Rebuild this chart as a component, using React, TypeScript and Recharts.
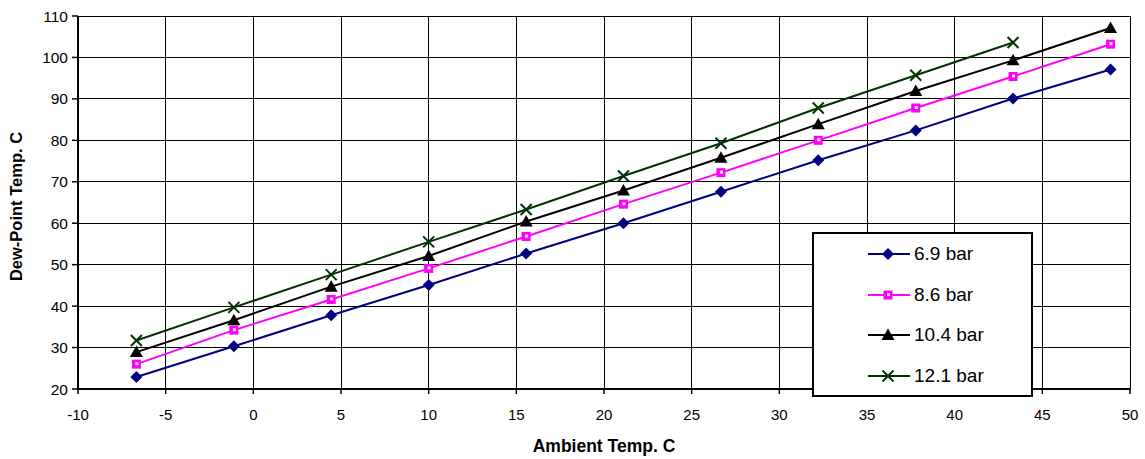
import React from 'react';
import {
  LineChart,
  Line,
  XAxis,
  YAxis,
  CartesianGrid,
  Legend,
  Label,
} from 'recharts';

// ambient temps (°C, converted from 20..120 °F)
const ambient = [-6.67, -1.11, 4.44, 10, 15.56, 21.11, 26.67, 32.22, 37.78, 43.33, 48.89];

const bar69 = [22.9, 30.3, 37.8, 45.1, 52.7, 60.0, 67.6, 75.2, 82.4, 90.1, 97.1];
const bar86 = [26.0, 34.2, 41.6, 49.1, 56.8, 64.6, 72.2, 80.0, 87.8, 95.4, 103.2];
const bar104 = [28.9, 36.6, 44.7, 52.1, 60.4, 67.9, 75.8, 83.9, 91.9, 99.3, 107.1];
const bar121 = [31.7, 39.7, 47.6, 55.5, 63.3, 71.4, 79.3, 87.8, 95.7, 103.6];

const xTicks = [-10, -5, 0, 5, 10, 15, 20, 25, 30, 35, 40, 45, 50];
const yTicks = [20, 30, 40, 50, 60, 70, 80, 90, 100, 110];

const NAVY = '#000080';
const MAGENTA = '#ff00ff';
const BLACK = '#000000';
const DKGREEN = '#003300';

const data = ambient.map((x, i) => ({
  x,
  b69: bar69[i],
  b86: bar86[i],
  b104: bar104[i],
  b121: bar121[i],
}));

const font = '"Liberation Sans", Arial, sans-serif';

// marker shapes
function diamond(cx: number, cy: number, key?: any) {
  return (
    <path
      key={key}
      d={`M${cx},${cy - 6} L${cx + 6},${cy} L${cx},${cy + 6} L${cx - 6},${cy} Z`}
      fill={NAVY}
    />
  );
}
function square(cx: number, cy: number, key?: any) {
  return (
    <g key={key}>
      <rect x={cx - 4.5} y={cy - 4.5} width={9} height={9} fill={MAGENTA} />
      <rect x={cx - 1} y={cy - 2} width={3} height={3} fill="#fff" />
    </g>
  );
}
function triangle(cx: number, cy: number, key?: any) {
  return (
    <path
      key={key}
      d={`M${cx},${cy - 6.5} L${cx + 6.5},${cy + 5} L${cx - 6.5},${cy + 5} Z`}
      fill={BLACK}
    />
  );
}
function cross(cx: number, cy: number, key?: any) {
  return (
    <g key={key} stroke={DKGREEN} strokeWidth={2}>
      <line x1={cx - 5.5} y1={cy - 5.5} x2={cx + 5.5} y2={cy + 5.5} />
      <line x1={cx - 5.5} y1={cy + 5.5} x2={cx + 5.5} y2={cy - 5.5} />
    </g>
  );
}

const makeDot = (fn: typeof diamond) => (props: any) => {
  const { cx, cy, index, value } = props;
  if (cx == null || cy == null || value == null) return <g key={`e-${index}`} />;
  return fn(cx, cy, `d-${index}`);
};

const series = [
  { key: 'b69', name: '6.9 bar', color: NAVY, marker: diamond },
  { key: 'b86', name: '8.6 bar', color: MAGENTA, marker: square },
  { key: 'b104', name: '10.4 bar', color: BLACK, marker: triangle },
  { key: 'b121', name: '12.1 bar', color: DKGREEN, marker: cross },
];

function LegendBox() {
  return (
    <div
      style={{
        boxSizing: 'border-box',
        width: 221,
        height: 165,
        border: '2px solid #000',
        background: '#fff',
        fontFamily: font,
        fontSize: 19,
        color: '#000',
      }}
    >
      {series.map((s) => (
        <div
          key={s.key}
          style={{ display: 'flex', alignItems: 'center', height: 40.5 }}
        >
          <svg width={42} height={14} style={{ marginLeft: 54, marginRight: 4 }}>
            <line x1={0} y1={7} x2={42} y2={7} stroke={s.color} strokeWidth={2} />
            {s.marker(20, 7)}
          </svg>
          <span>{s.name}</span>
        </div>
      ))}
    </div>
  );
}

function YTitle(props: any) {
  const { viewBox } = props;
  const cx = 16;
  const cy = viewBox.y + viewBox.height / 2 + 4;
  return (
    <text
      x={cx}
      y={cy}
      transform={`rotate(-90 ${cx} ${cy})`}
      textAnchor="middle"
      dominantBaseline="central"
      fontFamily={font}
      fontWeight="bold"
      fontSize={16.5}
      fill="#000"
    >
      Dew-Point Temp. C
    </text>
  );
}

function XTitle(props: any) {
  const { viewBox } = props;
  const cx = viewBox.x + viewBox.width / 2;
  return (
    <text
      x={cx}
      y={viewBox.y + 57}
      textAnchor="middle"
      dominantBaseline="central"
      fontFamily={font}
      fontWeight="bold"
      fontSize={17.5}
      fill="#000"
    >
      Ambient Temp. C
    </text>
  );
}

export default function App() {
  return (
    <div style={{ position: 'absolute', left: 0, top: 0, background: '#fff' }}>
      <LineChart
        width={1145}
        height={459}
        data={data}
        margin={{ top: 16, right: 15, bottom: 0, left: 0 }}
      >
        <CartesianGrid stroke="#000" strokeWidth={1} shapeRendering="crispEdges" />
        <XAxis
          dataKey="x"
          type="number"
          domain={[-10, 50]}
          ticks={xTicks}
          interval={0}
          height={70}
          tickSize={5}
          tickMargin={15}
          axisLine={{ stroke: '#000', strokeWidth: 2 }}
          tickLine={{ stroke: '#000', strokeWidth: 1.5 }}
          tick={{ fill: '#000', fontFamily: font, fontSize: 15 }}
        >
          <Label content={XTitle} />
        </XAxis>
        <YAxis
          type="number"
          domain={[20, 110]}
          ticks={yTicks}
          interval={0}
          width={78}
          tickSize={6}
          tickMargin={4}
          axisLine={{ stroke: '#000', strokeWidth: 2 }}
          tickLine={{ stroke: '#000', strokeWidth: 1.5 }}
          tick={{ fill: '#000', fontFamily: font, fontSize: 15.5 }}
        >
          <Label content={YTitle} />
        </YAxis>
        {series.map((s) => (
          <Line
            key={s.key}
            dataKey={s.key}
            name={s.name}
            stroke={s.color}
            strokeWidth={2}
            dot={makeDot(s.marker)}
            activeDot={false}
            isAnimationActive={false}
          />
        ))}
        <Legend
          layout="vertical"
          align="center"
          verticalAlign="middle"
          content={() => <LegendBox />}
          wrapperStyle={{ left: 812, top: 232, width: 221, height: 165 }}
        />
      </LineChart>
    </div>
  );
}
